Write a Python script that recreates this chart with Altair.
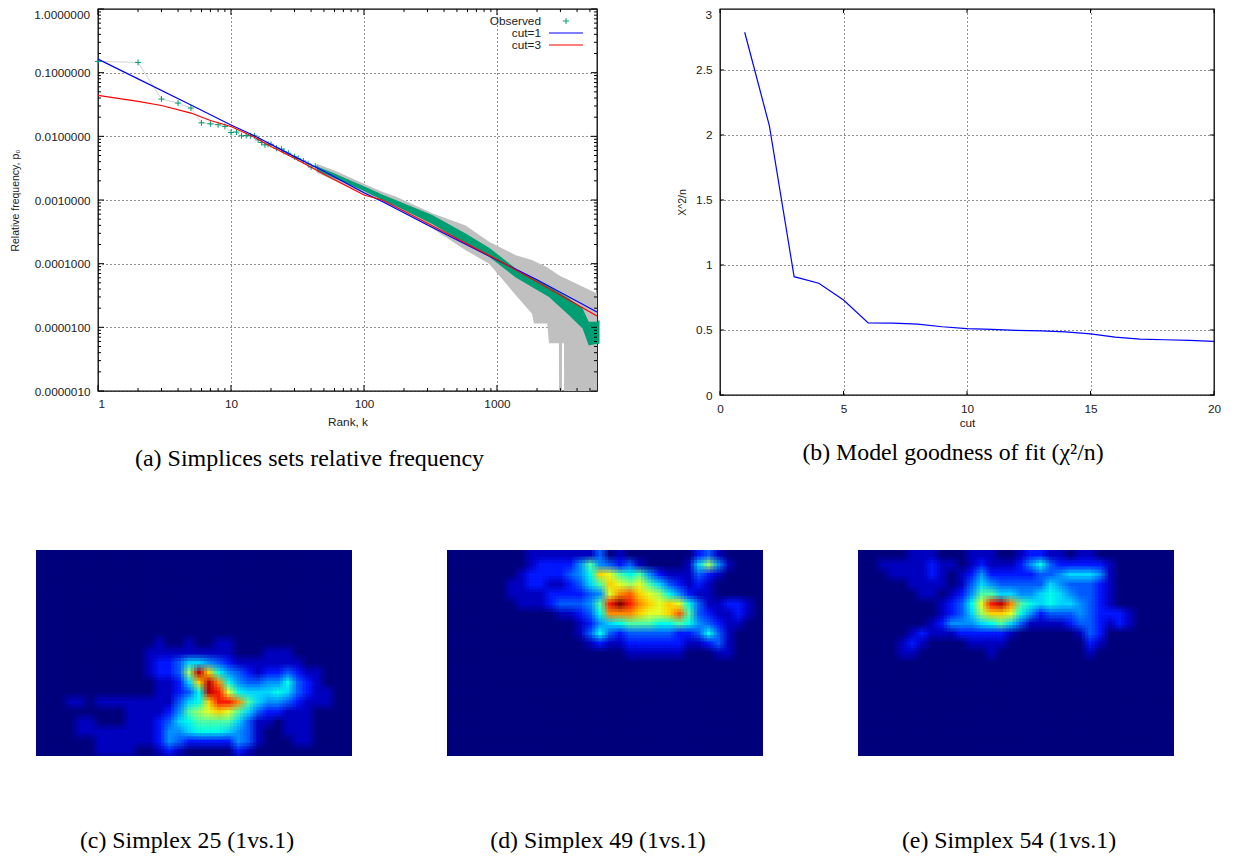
import altair as alt
import pandas as pd

# ---- panel (a) values
obs_k = [1,2,3,4,5,6,7,8,9,10,11,12,13,14,15,16,17,18,19,20,22,24,25,27,30,32,35,38,40,43]
obs_p = [.15,.145,.0385,.0333,.0278,.0163,.0157,.0152,.0143,.0115,.0117,.0102,.0103,.0102,.0102,.0088,.0080,.00734,.0075,.0075,.00652,.0063,.0058,.00543,.00477,.0045,.0041,.0037,.0033,.0034]
band_k = [44,60,80,100,137,173,326,581,872,1385,2460,3480,4400,4900,5670,5900]
band_hi = [.0034,.0026,.0020,.00165,.00122,.001,5.81e-4,2.98e-4,1.78e-4,8.4e-5,4.43e-5,2.83e-5,1.97e-5,1.22e-5,1.22e-5,1.3e-5]
band_lo = [.0029,.0022,.0017,.00138,.00100,8.05e-4,4.19e-4,2.03e-4,1.28e-4,6.07e-5,3.0e-5,1.55e-5,9.55e-6,5.2e-6,5.5e-6,5.5e-6]
err_k = [44,60,100,137,173,326,581,872,1385,1835,1895,2390,2460,2920,2930,3080,3085,3190,3195,5650]
err_hi = [.0037,.0029,.0018,.00135,.00113,6.17e-4,3.97e-4,2.2e-4,1.36e-4,1.14e-4,1.1e-4,8.8e-5,8.4e-5,6.6e-5,6.6e-5,6.2e-5,6.2e-5,6e-5,6e-5,3.4e-5]
err_lo = [.0027,.0020,.00125,.00093,7.4e-4,3.6e-4,1.63e-4,1.0e-4,3.2e-5,1.64e-5,1.15e-5,1.15e-5,5.6e-6,5.6e-6,1e-6,1e-6,5.6e-6,5.6e-6,1e-6,1e-6]
cut1_k = [1,2,5,10,15,30,50,100,137,300,1000,2000,5650]
cut1_p = [.163,.08,.0311,.0151,.0102,.0048,.00282,.0013,.00095,.000405,.000114,5.6e-5,1.74e-5]
cut3_k = [1,2,3,5,7,10,15,20,30,50,100,137,300,1000,2000,5650]
cut3_p = [.0439,.0353,.0305,.0232,.0177,.01426,.0097,.0069,.00454,.00254,.0012,.001,.00043,.000116,5.2e-5,1.51e-5]
legend_labels = ["Observed", "cut=1", "cut=3"]

# ---- panel (b) values
fit_cut = list(range(1, 21))
fit_val = [2.79,2.07,.91,.86,.73,.555,.553,.545,.525,.51,.505,.497,.493,.485,.47,.445,.43,.425,.42,.413]

# ---- heat maps: (row, first column, hex levels), all other cells are level 0
heat_c = [
 (9,12,"10010011"),(10,11,"111111111"),(10,23,"111"),
 (11,11,"1223554321111111"),(12,11,"12238ea64321223211"),
 (13,12,"1125aeb6433446321"),(14,12,"11236ed96555653211"),
 (15,3,"11"),(15,6,"11111111356addb754432111"),
 (16,9,"111124789a975322111"),(17,4,"11"),(17,9,"1112356777753110111"),
 (18,4,"111111112445666543100111"),(19,6,"11111124322222431"),(19,26,"11"),
 (20,6,"1111"),(20,12,"121"),(20,20,"21"),
]
heat_d = [
 (0,8,"1111111301"),(0,25,"231"),
 (1,8,"122224743231"),(1,24,"15841"),
 (2,7,"12222346a976742111321"),
 (3,6,"1122112357a9897532121"),
 (4,6,"11112222349bca9864211"),
 (5,7,"111233347dfdba9a96311221"),
 (6,11,"11236bbba99ac7321121"),
 (7,13,"12456777667643211"),
 (8,13,"1363233333223631"),
 (9,14,"121122222211231"),(10,18,"111111"),(10,27,"11"),
]
heat_e = [
 (0,5,"111"),(0,11,"111"),(0,16,"12211"),(0,22,"11"),
 (1,2,"11111211"),(1,11,"121112463222221"),
 (2,3,"111121"),(2,10,"1242222233455541"),
 (3,5,"1111"),(3,10,"1354333335433321"),
 (4,6,"11"),(4,9,"12477554456543321"),
 (5,8,"12369deb7656554321"),
 (6,8,"12358aa9642333432221"),
 (7,7,"124445675311112332121"),
 (8,5,"12111222221"),(8,22,"132"),
 (9,4,"121"),(9,11,"1111"),(9,23,"21"),
 (10,4,"11"),(10,13,"1"),(10,23,"1"),
]

n_cols, n_rows = 32, 21
jet = ["#00007f","#0000ff","#007fff","#00ffff","#7fff7f","#ffff00","#ff7f00","#ff0000","#7f0000"]
jet_dom = [0,1.875,3.75,5.625,7.5,9.375,11.25,13.125,15]

FRAME = "#000000"
DOT = [1, 3]
GRID = "#222222"
CAP = dict(orient="bottom", font="Liberation Serif", fontWeight="normal", color="#000000", anchor="middle")
TXT = dict(font="Liberation Sans", fontSize=11.8, color="#222222", baseline="middle")


def inner_ticks(scale, axis, values, length, span, ax):
    """Short inward tick rules on both sides of the frame."""
    df = pd.DataFrame({"v": values})
    base = alt.Chart(df).mark_rule(color=FRAME, strokeWidth=1)
    if axis == "x":
        e = dict(x=alt.X("v:Q", scale=scale, axis=ax))
        return [base.encode(y=alt.value(span), y2=alt.value(span - length), **e),
                base.encode(y=alt.value(0), y2=alt.value(length), **e)]
    e = dict(y=alt.Y("v:Q", scale=scale, axis=ax))
    return [base.encode(x=alt.value(0), x2=alt.value(length), **e),
            base.encode(x=alt.value(span), x2=alt.value(span - length), **e)]


def value_text(s, x, y, align):
    return alt.Chart(pd.DataFrame({"t": [s]})).mark_text(align=align, **TXT).encode(
        x=alt.value(x), y=alt.value(y), text="t:N")


def blank():
    """Empty one-pixel cell that only holds a column open in the page layout."""
    return alt.Chart(pd.DataFrame({"t": ["s"]})).mark_rule(opacity=0).encode(
        x=alt.value(0), y=alt.value(0)
    ).properties(width=1, height=1, view=alt.ViewBackground(stroke=None))


# ---------------- panel (a)
AW, AH = 499, 382
xa = alt.Scale(type="log", domain=[1, 5650], nice=False)
ya = alt.Scale(type="log", domain=[1e-6, 1], nice=False)
xa_ax = alt.Axis(values=[1, 10, 100, 1000], format="d", title="Rank, k", grid=True, gridDash=DOT,
                 gridColor=GRID, ticks=False, domain=False, labelPadding=7, titlePadding=7)
ya_ax = alt.Axis(values=[.1, .01, .001, .0001, .00001, .000001], format=".7f",
                 title="Relative frequency, p\u2080", grid=True, gridDash=DOT, gridColor=GRID,
                 ticks=False, domain=False, labelPadding=8, titlePadding=14, titleFontSize=10.5)
err_df = pd.DataFrame({"k": err_k, "lo": err_lo, "hi": err_hi})
band_df = pd.DataFrame({"k": band_k, "lo": band_lo, "hi": band_hi})
obs_df = pd.DataFrame({"k": obs_k, "p": obs_p})
X_A = alt.X("k:Q", scale=xa, axis=xa_ax)


def Y_A(f):
    return alt.Y(f, scale=ya, axis=ya_ax)


gray = alt.Chart(err_df).mark_area(color="#c0c0c0", clip=True).encode(x=X_A, y=Y_A("lo:Q"), y2="hi:Q")
obs_line = alt.Chart(obs_df).mark_line(color="#d4d4d4", strokeWidth=1).encode(x=X_A, y=Y_A("p:Q"))
green = alt.Chart(band_df).mark_area(color="#009e73").encode(x=X_A, y=Y_A("lo:Q"), y2="hi:Q")
PLUS = "M-1,0L1,0M0,-1L0,1"
pts = alt.Chart(obs_df).mark_point(shape=PLUS, size=36, color="#009e73", strokeWidth=1, filled=False, opacity=1).encode(
    x=X_A, y=Y_A("p:Q"))
blue = alt.Chart(pd.DataFrame({"k": cut1_k, "p": cut1_p})).mark_line(color="#0000ff", strokeWidth=1.2).encode(x=X_A, y=Y_A("p:Q"))
red = alt.Chart(pd.DataFrame({"k": cut3_k, "p": cut3_p})).mark_line(color="#ff0000", strokeWidth=1.2).encode(x=X_A, y=Y_A("p:Q"))

minor_x = [m * 10**e for e in range(0, 4) for m in range(2, 10) if m * 10**e < 5650]
minor_y = [m * 10.0**e for e in range(-6, 0) for m in range(2, 10)]
leg = [value_text(t, 443, y, "right") for t, y in zip(legend_labels, [12, 24, 36])]
leg_plus = alt.Chart(pd.DataFrame({"t": ["o"]})).mark_point(
    shape=PLUS, size=36, color="#009e73", strokeWidth=1, filled=False, opacity=1
).encode(x=alt.value(468), y=alt.value(12))
leg_blue = alt.Chart(pd.DataFrame({"t": ["b"]})).mark_rule(color="#0000ff", strokeWidth=1.2).encode(
    x=alt.value(451), x2=alt.value(485), y=alt.value(24))
leg_red = alt.Chart(pd.DataFrame({"t": ["r"]})).mark_rule(color="#ff0000", strokeWidth=1.2).encode(
    x=alt.value(451), x2=alt.value(485), y=alt.value(36))

panel_a = alt.layer(
    gray, obs_line, green, pts, blue, red,
    *inner_ticks(xa, "x", [1, 10, 100, 1000], 6, AH, xa_ax), *inner_ticks(xa, "x", minor_x, 3, AH, xa_ax),
    *inner_ticks(ya, "y", [1, .1, .01, .001, .0001, .00001, .000001], 6, AW, ya_ax),
    *inner_ticks(ya, "y", minor_y, 3, AW, ya_ax),
    value_text("1.0000000", -8, 6, "right"),
    *leg, leg_plus, leg_blue, leg_red,
).properties(
    width=AW, height=AH,
    view=alt.ViewBackground(stroke=FRAME, strokeWidth=1.3),
    title=alt.TitleParams("(a) Simplices sets relative frequency", offset=18, dx=-38, fontSize=24, **CAP),
)

# ---------------- panel (b)
BW, BH = 494, 386
xb = alt.Scale(domain=[0, 20], nice=False)
yb = alt.Scale(domain=[0, 2.969], nice=False)
xb_ax = alt.Axis(values=[0, 5, 10, 15, 20], title="cut", grid=True, gridDash=DOT, gridColor=GRID,
                 ticks=False, domain=False, labelPadding=8, titlePadding=3, labelFlush=False)
yb_ax = alt.Axis(values=[0, .5, 1, 1.5, 2, 2.5], format="~g", title="X^2/n", grid=True, gridDash=DOT, gridColor=GRID,
                 ticks=False, domain=False, labelPadding=8, titlePadding=8, titleFontSize=10.5)
fit = alt.Chart(pd.DataFrame({"c": fit_cut, "v": fit_val})).mark_line(color="#0000ff", strokeWidth=1.2).encode(
    x=alt.X("c:Q", scale=xb, axis=xb_ax), y=alt.Y("v:Q", scale=yb, axis=yb_ax))
panel_b = alt.layer(
    fit, *inner_ticks(xb, "x", [0, 5, 10, 15, 20], 4, BH, xb_ax),
    *inner_ticks(yb, "y", [0, .5, 1, 1.5, 2, 2.5], 4, BW, yb_ax),
    value_text("3", -8, 6, "right"),
).properties(
    width=BW, height=BH,
    view=alt.ViewBackground(stroke=FRAME, strokeWidth=1.3),
    title=alt.TitleParams("(b) Model goodness of fit (\u03c7\u00b2/n)", offset=11, dx=-14, fontSize=23.8, **CAP),
)


def heat(spec, caption, dx):
    grid = [[0] * n_cols for _ in range(n_rows)]
    for row, start, digits in spec:
        for i, ch in enumerate(digits):
            grid[row][start + i] = int(ch, 16)
    df = pd.DataFrame([
        {"c": c, "r": r, "v": grid[r][c]} for r in range(n_rows) for c in range(n_cols)
    ])
    sx_x = alt.Scale(domain=[0, n_cols], nice=False)
    sx_y = alt.Scale(domain=[n_rows, 0], nice=False)
    col = alt.Color("v:Q", scale=alt.Scale(domain=jet_dom, range=jet), legend=None)
    parts = []
    n = 0
    # the same cells drawn at sub-cell shifts, averaged by opacity, for a soft raster look
    for sy in (-1 / 3, 0, 1 / 3):
        for sx in (-1 / 3, 0, 1 / 3):
            n += 1
            parts.append(
                alt.Chart(df).transform_calculate(
                    x1=f"datum.c+({sx})", x2=f"datum.c+1+({sx})",
                    y1=f"datum.r+({sy})", y2=f"datum.r+1+({sy})",
                ).mark_rect(clip=True, opacity=1 / n).encode(
                    x=alt.X("x1:Q", scale=sx_x, axis=None), x2="x2:Q",
                    y=alt.Y("y1:Q", scale=sx_y, axis=None), y2="y2:Q",
                    color=col,
                )
            )
    return alt.layer(*parts).properties(
        width=316, height=206, view=alt.ViewBackground(stroke=None, fill="#00007f"),
        title=alt.TitleParams(caption, offset=73, dx=dx, fontSize=23.8, **CAP),
    )


panel_c = heat(heat_c, "(c) Simplex 25 (1vs.1)", -7)
panel_d = heat(heat_d, "(d) Simplex 49 (1vs.1)", -7)
panel_e = heat(heat_e, "(e) Simplex 54 (1vs.1)", -7)

top = alt.hconcat(blank(), alt.hconcat(panel_a, panel_b, spacing=75), spacing=0)
bottom = alt.hconcat(blank(), alt.hconcat(panel_c, panel_d, panel_e, spacing=95), spacing=27)
chart = alt.concat(top, bottom, columns=1, align="none", spacing=78).properties(
    padding={"left": 0, "top": -1, "right": 0, "bottom": 0}, background="white"
).configure_axis(
    labelFont="Liberation Sans", titleFont="Liberation Sans", labelFontSize=11.8, titleFontSize=11.8,
    titleFontWeight="normal", labelColor="#222222", titleColor="#222222",
)
chart.save("out.html", embed_options={"renderer": "svg", "actions": False})
